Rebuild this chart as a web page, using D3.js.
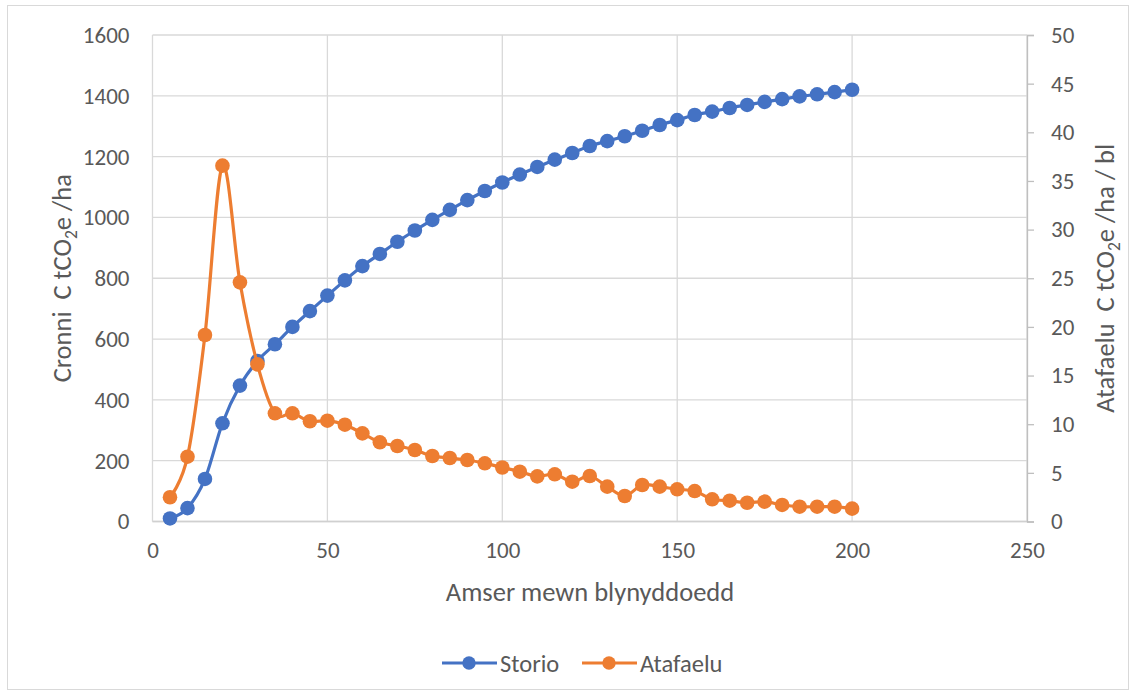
<!DOCTYPE html>
<html>
<head>
<meta charset="utf-8">
<script src="https://cdn.jsdelivr.net/npm/d3@7"></script>
<style>
  html, body { margin: 0; padding: 0; background: #fff; }
  svg text { font-family: Carlito, Lato, "Open Sans", sans-serif; fill: #595959; }
</style>
</head>
<body>
<svg id="chart" width="1135" height="695"></svg>
<script>
// Years (x values)
const years = [5, 10, 15, 20, 25, 30, 35, 40, 45, 50, 55, 60, 65, 70, 75, 80, 85, 90, 95, 100,
               105, 110, 115, 120, 125, 130, 135, 140, 145, 150, 155, 160, 165, 170, 175, 180, 185, 190, 195, 200];

// Cumulative storage, tCO2e/ha (left axis)
const storio = [10, 44, 140, 323, 447, 528, 583, 640, 692, 743, 793, 840, 880, 920, 957, 992, 1025, 1057, 1087, 1115,
                1141, 1166, 1190, 1212, 1235, 1251, 1267, 1285, 1304, 1320, 1337, 1348, 1360, 1370, 1380, 1389, 1398, 1405, 1412, 1420];

// Annual sequestration, tCO2e/ha/yr (right axis)
const atafaelu = [2.49, 6.66, 19.17, 36.57, 24.58, 16.15, 11.12, 11.12, 10.3, 10.36, 9.95, 9.06, 8.14, 7.76, 7.35, 6.73, 6.53, 6.32, 5.98, 5.55,
                  5.12, 4.64, 4.85, 4.09, 4.68, 3.58, 2.62, 3.75, 3.58, 3.31, 3.13, 2.28, 2.14, 1.93, 2.04, 1.70, 1.52, 1.52, 1.52, 1.32];

const xTicks = [0, 50, 100, 150, 200, 250];
const leftTicks = [0, 200, 400, 600, 800, 1000, 1200, 1400, 1600];
const rightTicks = [0, 5, 10, 15, 20, 25, 30, 35, 40, 45, 50];

const seriesNames = ["Storio", "Atafaelu"];
const colors = ["#4472C4", "#ED7D31"];

const svg = d3.select("#chart");
const plot = { left: 152.5, right: 1027, top: 35, bottom: 521.5 };

const x = d3.scaleLinear().domain([0, 250]).range([plot.left, plot.right]);
const yL = d3.scaleLinear().domain([0, 1600]).range([plot.bottom, plot.top]);
const yR = d3.scaleLinear().domain([0, 50]).range([plot.bottom, plot.top]);

const tickSize = 23;
const titleSize = 26.5;
const legendSize = 24.5;

// Chart frame
svg.append("rect")
  .attr("x", 7.5).attr("y", 5.5).attr("width", 1121).attr("height", 684)
  .attr("fill", "#fff").attr("stroke", "#D9D9D9").attr("stroke-width", 1);

// Gridlines
const grid = svg.append("g").attr("stroke", "#D9D9D9").attr("stroke-width", 1.3);
grid.selectAll("line.h").data(leftTicks).join("line")
  .attr("x1", plot.left).attr("x2", plot.right)
  .attr("y1", d => yL(d)).attr("y2", d => yL(d));
grid.selectAll("line.v").data(xTicks).join("line")
  .attr("y1", plot.top).attr("y2", plot.bottom)
  .attr("x1", d => x(d)).attr("x2", d => x(d));

// Bottom axis line
svg.append("line")
  .attr("x1", plot.left).attr("x2", plot.right)
  .attr("y1", plot.bottom).attr("y2", plot.bottom)
  .attr("stroke", "#D0D0D0").attr("stroke-width", 1.5);

// Right (secondary) axis with outside ticks
const rAxis = svg.append("g")
  .attr("transform", `translate(${plot.right},0)`)
  .call(d3.axisRight(yR).tickValues(rightTicks).tickSize(7).tickPadding(17).tickFormat(d3.format("d")));
rAxis.select(".domain").attr("stroke", "#BFBFBF").attr("stroke-width", 1.3);
rAxis.selectAll(".tick line").attr("stroke", "#BFBFBF").attr("stroke-width", 1.3);
rAxis.selectAll(".tick text").attr("font-size", tickSize).style("fill", "#595959");

// Left axis labels
const lAxis = svg.append("g")
  .attr("transform", `translate(${plot.left},0)`)
  .call(d3.axisLeft(yL).tickValues(leftTicks).tickSize(0).tickPadding(23).tickFormat(d3.format("d")));
lAxis.select(".domain").remove();
lAxis.selectAll(".tick text").attr("font-size", tickSize).style("fill", "#595959");

// Bottom axis labels
const bAxis = svg.append("g")
  .attr("transform", `translate(0,${plot.bottom})`)
  .call(d3.axisBottom(x).tickValues(xTicks).tickSize(0).tickPadding(20).tickFormat(d3.format("d")));
bAxis.select(".domain").remove();
bAxis.selectAll(".tick text").attr("font-size", tickSize).style("fill", "#595959");

// Axis titles
svg.append("text")
  .attr("x", 590).attr("y", 601)
  .attr("text-anchor", "middle").attr("font-size", titleSize)
  .text("Amser mewn blynyddoedd");

function unitTitle(sel, prefix, suffix) {
  sel.append("tspan").text(prefix + "\u00a0 C tCO");
  sel.append("tspan").attr("font-size", titleSize * 0.66).attr("dy", 6).text("2");
  sel.append("tspan").attr("dy", -6).text("e " + suffix);
}

const leftTitle = svg.append("text")
  .attr("transform", `translate(70.5,${(plot.top + plot.bottom) / 2}) rotate(-90)`)
  .attr("text-anchor", "middle").attr("font-size", titleSize);
unitTitle(leftTitle, "Cronni", "/ha");

const rightTitle = svg.append("text")
  .attr("transform", `translate(1113.5,${(plot.top + plot.bottom) / 2}) rotate(-90)`)
  .attr("text-anchor", "middle").attr("font-size", titleSize);
unitTitle(rightTitle, "Atafaelu", "/ha / bl");

// Series
const curve = d3.curveCatmullRom.alpha(0);
const series = [
  { name: seriesNames[0], values: storio, y: yL, color: colors[0] },
  { name: seriesNames[1], values: atafaelu, y: yR, color: colors[1] }
];

series.forEach(s => {
  const pts = years.map((yr, i) => [yr, s.values[i]]);
  const line = d3.line().x(d => x(d[0])).y(d => s.y(d[1])).curve(curve);
  const g = svg.append("g");
  g.append("path").attr("d", line(pts))
    .attr("fill", "none").attr("stroke", s.color).attr("stroke-width", 3.2)
    .attr("stroke-linejoin", "round");
  g.selectAll("circle").data(pts).join("circle")
    .attr("cx", d => x(d[0])).attr("cy", d => s.y(d[1]))
    .attr("r", 7.3).attr("fill", s.color);
});

// Legend
const legendItems = [
  { name: seriesNames[0], color: colors[0], x0: 442 },
  { name: seriesNames[1], color: colors[1], x0: 582 }
];
const legendY = 663;
const lg = svg.append("g");
legendItems.forEach(it => {
  lg.append("line")
    .attr("x1", it.x0).attr("x2", it.x0 + 55)
    .attr("y1", legendY).attr("y2", legendY)
    .attr("stroke", it.color).attr("stroke-width", 3.2);
  lg.append("circle")
    .attr("cx", it.x0 + 27).attr("cy", legendY).attr("r", 6.7).attr("fill", it.color);
  lg.append("text")
    .attr("x", it.x0 + 58).attr("y", legendY).attr("dy", "0.35em")
    .attr("font-size", legendSize).text(it.name);
});
</script>
</body>
</html>
